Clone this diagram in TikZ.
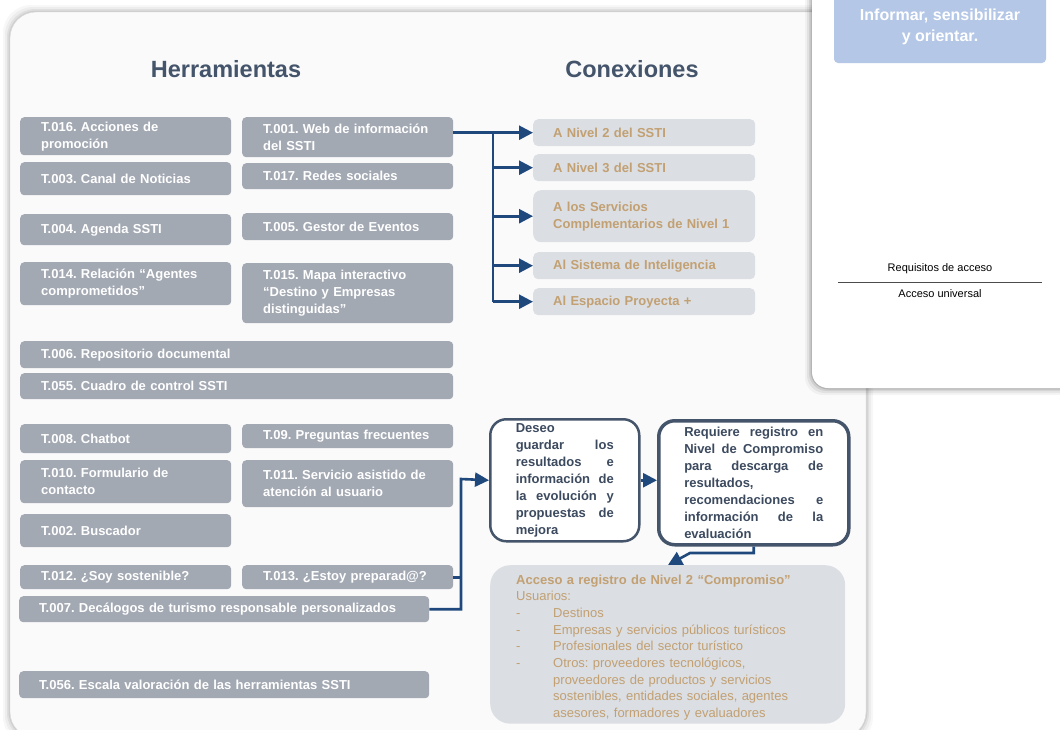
\documentclass[tikz,border=0pt]{standalone}
\usepackage{fontspec}
\setmainfont{Liberation Sans}
\usepackage{tikz}
\usetikzlibrary{arrows.meta,positioning,calc}
\definecolor{toolGray}{RGB}{163,169,179}
\definecolor{connGray}{RGB}{219,222,227}
\definecolor{connTan}{RGB}{194,160,114}
\definecolor{inkhead}{RGB}{68,84,106}
\definecolor{boxInk}{RGB}{60,74,95}
\definecolor{linkBlue}{RGB}{31,73,125}
\definecolor{infoBlue}{RGB}{180,199,231}
\definecolor{panelBg}{RGB}{250,250,250}
\newcommand{\itemdash}{\makebox[37pt][l]{-}}

\begin{document}
\hyphenpenalty=10000
\exhyphenpenalty=10000
\tolerance=10000
\frenchspacing
\begin{tikzpicture}[x=1pt,y=-1pt,
  tool/.style={fill=toolGray,rounded corners=4pt,anchor=north west,text=white,
               font=\bfseries\fontsize{13}{17}\selectfont,align=left,inner xsep=21pt,
               inner ysep=2pt,text width=#1-42pt},
  tool/.default=211pt,
  conn/.style={fill=connGray,rounded corners=5pt,anchor=north west,text=connTan,
               font=\bfseries\fontsize{13}{17}\selectfont,align=left,inner xsep=20pt,
               inner ysep=2pt,text width=182pt},
  choice/.style={draw=inkhead,fill=white,line width=#1,rounded corners=16pt,anchor=north west,
                 text=boxInk,align=justify,inner xsep=25.5pt,inner ysep=0pt,
                 font=\bfseries\fontsize{13}{17}\selectfont},
  link/.style={draw=linkBlue,line width=2.6pt},
  arr/.style={link,-{Triangle[length=14pt,width=14pt]}},
  heading/.style={font=\bfseries\fontsize{23.5}{28}\selectfont,text=inkhead}]
  \useasboundingbox (0,0) rectangle (1060,729);
  % main panel with a soft shadow
  \foreach \s/\o in {7/0.03,5/0.04,3/0.06,1.5/0.08}
    \fill[black,opacity=\o,rounded corners=28pt] (10-\s,12-\s) rectangle (866+\s,738+\s);
  \draw[black!15,fill=panelBg,rounded corners=26pt] (10,12) rectangle (866,738);
  % access panel on the right
  \foreach \s/\o in {7/0.04,5/0.06,3/0.08,1.5/0.12}
    \fill[black,opacity=\o,rounded corners=18pt] (812-\s,-30) rectangle (1080,388+\s);
  \fill[white,rounded corners=16pt] (812,-30) rectangle (1080,388);
  \node[fill=infoBlue,rounded corners=4pt,minimum width=212pt,minimum height=73pt,
        text=white,align=center,font=\bfseries\fontsize{16}{21}\selectfont] (goal) at (940,26.5)
        {Informar, sensibilizar\\y orientar.};
  \node[font=\fontsize{11}{13}\selectfont] (reqtitle) at (940,269) {Requisitos de acceso};
  \node[font=\fontsize{11}{13}\selectfont] (reqvalue) at (940,294) {Acceso universal};
  \draw[black!70,line width=0.7pt] (838,282.5) -- (1042,282.5);

  \node[heading] (hdtools) at (226,69) {Herramientas};
  \node[heading] (hdconn) at (632,69) {Conexiones};

  % tools
  \node[tool,minimum height=38pt] (t016) at (20,117) {T.016. Acciones de\\promoción};
  \node[tool,minimum height=40pt] (t001) at (242,117) {T.001. Web de información\\del SSTI};
  \node[tool,minimum height=33pt] (t003) at (20,162) {T.003. Canal de Noticias};
  \node[tool,minimum height=26pt] (t017) at (242,163) {T.017. Redes sociales};
  \node[tool,minimum height=31pt] (t004) at (20,214) {T.004. Agenda SSTI};
  \node[tool,minimum height=27pt] (t005) at (242,213) {T.005. Gestor de Eventos};
  \node[tool,minimum height=43pt] (t014) at (20,262) {T.014. Relación “Agentes\\comprometidos”};
  \node[tool,minimum height=60pt] (t015) at (242,263) {T.015. Mapa interactivo\\“Destino y Empresas\\distinguidas”};
  \node[tool=433pt,minimum height=27pt] (t006) at (20,341) {T.006. Repositorio documental};
  \node[tool=433pt,minimum height=26pt] (t055) at (20,373) {T.055. Cuadro de control SSTI};
  \node[tool,minimum height=29pt] (t008) at (20,424) {T.008. Chatbot};
  \node[tool,minimum height=24pt] (t009) at (242,424) {T.09. Preguntas frecuentes};
  \node[tool,minimum height=43pt] (t010) at (20,460) {T.010. Formulario de\\contacto};
  \node[tool,minimum height=47pt] (t011) at (242,460) {T.011. Servicio asistido de\\atención al usuario};
  \node[tool,minimum height=33pt] (t002) at (20,514) {T.002. Buscador};
  \node[tool,minimum height=24pt] (t012) at (20,565) {T.012. ¿Soy sostenible?};
  \node[tool,minimum height=24pt] (t013) at (242,565) {T.013. ¿Estoy preparad@?};
  \node[tool=412pt,inner xsep=20pt,minimum height=26pt] (t007) at (19,596) {T.007. Decálogos de turismo responsable personalizados};
  \node[tool=412pt,inner xsep=20pt,minimum height=27pt] (t056) at (19,671) {T.056. Escala valoración de las herramientas SSTI};

  % connections
  \node[conn,minimum height=27pt] (c1) at (533,119) {A Nivel 2 del SSTI};
  \node[conn,minimum height=27pt] (c2) at (533,154) {A Nivel 3 del SSTI};
  \node[conn,minimum height=52pt,rounded corners=8pt] (c3) at (533,190) {A los Servicios\\Complementarios de Nivel 1};
  \node[conn,minimum height=27pt] (c4) at (533,252) {Al Sistema de Inteligencia};
  \node[conn,minimum height=27pt] (c5) at (533,288) {Al Espacio Proyecta +};

  \coordinate (jtop) at (493,132.5);
  \coordinate (jbot) at (493,301.5);
  \draw[arr] (t001.east |- c1.west) -- (c1.west);
  \draw[link] (jtop) -- (jbot);
  \draw[arr] (c2.west -| jtop) -- (c2.west);
  \draw[arr] (c3.west -| jtop) -- (c3.west);
  \draw[arr] (c4.west -| jtop) -- (c4.west);
  \draw[arr] (c5.west -| jtop) -- (c5.west);

  % registration flow
  \node[choice=2.5pt,text width=98pt,minimum height=122pt] (wish) at (489,418)
    {Deseo\newline guardar los\linebreak resultados e\linebreak información de\linebreak
     la evolución y\linebreak propuestas de\linebreak mejora};
  \node[choice=3.5pt,text width=139pt,minimum height=124pt] (needs) at (657,419)
    {Requiere registro en\linebreak Nivel de Compromiso\linebreak para descarga de\linebreak
     resultados,\newline recomendaciones e\linebreak información de la\linebreak evaluación};
  \node[fill=connGray,rounded corners=20pt,anchor=north west,text=connTan,align=left,
        text width=303pt,inner xsep=26pt,minimum height=158pt,
        font=\fontsize{13}{16.7}\selectfont] (level2) at (490,565)
    {\rule{0pt}{15.5pt}\textbf{Acceso a registro de Nivel 2 “Compromiso”}\\
     Usuarios:\\
     \itemdash Destinos\\
     \itemdash Empresas y servicios públicos turísticos\\
     \itemdash Profesionales del sector turístico\\
     \itemdash Otros: proveedores tecnológicos,\\
     \hspace*{37pt}proveedores de productos y servicios\\
     \hspace*{37pt}sostenibles, entidades sociales, agentes\\
     \hspace*{37pt}asesores, formadores y evaluadores};

  \coordinate (bend) at (461,479);
  \coordinate (drop) at (690,553);
  \coordinate (l2top) at (668,565);
  \draw[link] (t013.east) -- (t013.east -| bend);
  \draw[arr] (t007.east) -| (bend) -- (wish.west);
  \draw[arr] (wish.east) -- (wish.east -| needs.west);
  \draw[arr] (needs.south) |- (drop) -- (l2top);
\end{tikzpicture}
\end{document}
